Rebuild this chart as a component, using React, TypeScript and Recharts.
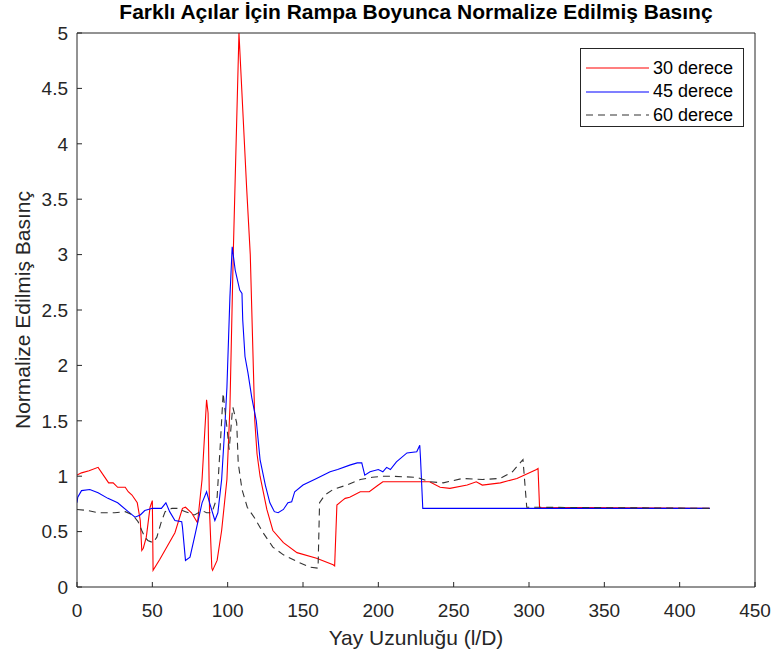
import { Label, Line, LineChart, XAxis, YAxis } from "recharts";

const xTicks = [0, 50, 100, 150, 200, 250, 300, 350, 400, 450];
const yTicks = [0, 0.5, 1, 1.5, 2, 2.5, 3, 3.5, 4, 4.5, 5];

// 30 derece
const x30 = [
  0, 3, 8, 14, 21, 24, 27, 32, 34, 36.5, 40, 42, 43, 44, 46, 48.5, 50, 50.5, 55, 60, 65, 70, 72, 76, 80, 83, 86,
  87, 88, 89.5, 90, 93, 96, 99.5, 101.5, 103.7, 107.5, 112.6, 115, 118, 119.5, 121.5, 126, 130, 137, 146, 159,
  170, 171, 172.5, 176, 178, 181, 188, 194, 200, 203, 225.5, 234, 241, 247.5, 259, 265, 269, 281, 292, 305, 306,
  307, 420,
];
const y30 = [
  1.01, 1.03, 1.05, 1.08, 0.94, 0.94, 0.9, 0.9, 0.86, 0.83, 0.76, 0.6, 0.33, 0.35, 0.45, 0.72, 0.78, 0.15, 0.25,
  0.37, 0.49, 0.71, 0.72, 0.67, 0.58, 0.97, 1.69, 1.57, 0.67, 0.17, 0.15, 0.24, 0.51, 0.97, 1.62, 3.0, 5.0, 3.6,
  3.0, 1.5, 1.2, 1.0, 0.7, 0.51, 0.4, 0.31, 0.26, 0.2, 0.19, 0.74, 0.78, 0.8, 0.81, 0.86, 0.86, 0.92, 0.95, 0.95,
  0.95, 0.9, 0.89, 0.92, 0.95, 0.92, 0.94, 0.98, 1.06, 1.07, 0.72, 0.71,
];

// 45 derece
const x45 = [
  0, 0.5, 3, 8.5, 14, 20.5, 27, 34, 38.5, 42, 45, 50, 56, 59, 61.5, 65, 69.5, 70, 72, 75, 78, 83, 86, 88, 91.5,
  93.5, 96, 98, 99.5, 101.5, 103, 105, 108, 109.5, 110, 111.5, 113.5, 116, 119, 121.5, 125, 128, 131, 133.5, 137,
  140, 142.5, 144.5, 150, 159, 168, 173, 181, 186, 189, 191, 194.5, 200, 203, 205.5, 208, 212, 219, 225.5, 227.5,
  228, 229.5, 420,
];
const y45 = [
  0.76, 0.81, 0.87, 0.88, 0.85, 0.8, 0.76, 0.68, 0.63, 0.65, 0.69, 0.71, 0.71, 0.76, 0.68, 0.6, 0.59, 0.54, 0.24,
  0.27, 0.45, 0.76, 0.86, 0.76, 0.6, 0.67, 0.97, 1.42, 1.8, 2.62, 3.07, 2.86, 2.68, 2.65, 2.41, 2.08, 1.93, 1.71,
  1.5, 1.15, 0.92, 0.76, 0.68, 0.67, 0.7, 0.76, 0.77, 0.86, 0.92, 0.98, 1.04, 1.06, 1.1, 1.12, 1.12, 1.01, 1.04,
  1.06, 1.04, 1.08, 1.06, 1.13, 1.21, 1.22, 1.28, 1.16, 0.71, 0.71,
];

// 60 derece
const x60 = [
  0, 7, 14, 25, 32, 37, 40.5, 43, 45, 47, 50.5, 53, 56, 58.5, 63, 67, 70, 72, 78, 83, 86, 89.5, 93, 95, 97, 99.5,
  101, 103, 103.5, 106, 107, 109.5, 113, 118, 123.5, 130, 137, 146, 154.5, 160, 161, 164.5, 170, 179, 188, 196,
  203, 208, 225.5, 234, 243, 256, 269, 281, 289, 296, 298.5, 420,
];
const y60 = [
  0.7, 0.69, 0.67, 0.67, 0.68, 0.65, 0.59, 0.51, 0.45, 0.42, 0.4, 0.45, 0.59, 0.68, 0.71, 0.71, 0.69, 0.68, 0.65,
  0.69, 0.67, 0.67, 0.81, 1.26, 1.75, 1.44, 1.24, 1.57, 1.62, 1.48, 1.12, 0.88, 0.72, 0.62, 0.49, 0.36, 0.29,
  0.23, 0.18, 0.17, 0.76, 0.83, 0.88, 0.92, 0.97, 0.99, 1.0, 1.0, 0.99, 0.95, 0.94, 0.98, 0.97, 0.98, 1.04, 1.15,
  0.72, 0.71,
];

const toPoints = (xs: number[], ys: number[]) => xs.map((x, i) => ({ x, y: ys[i] }));

const series = [
  { name: "30 derece", data: toPoints(x30, y30), color: "#ff0000", dash: undefined },
  { name: "45 derece", data: toPoints(x45, y45), color: "#0000ff", dash: undefined },
  { name: "60 derece", data: toPoints(x60, y60), color: "#333333", dash: "7 5" },
];

const ink = "#262626";
const font = "'Liberation Sans', Arial, sans-serif";
const tickStyle = { fontSize: 19, fill: ink, fontFamily: font };

export default function App() {
  return (
    <div
      style={{
        position: "absolute",
        left: 0,
        top: 0,
        width: 780,
        height: 653,
        background: "#fff",
        fontFamily: font,
      }}
    >
      <div
        style={{
          position: "absolute",
          left: 0,
          top: 0,
          width: 832,
          textAlign: "center",
          fontSize: 21,
          fontWeight: "bold",
          color: "#000",
          lineHeight: "24px",
          whiteSpace: "nowrap",
        }}
      >
        Farklı Açılar İçin Rampa Boyunca Normalize Edilmiş Basınç
      </div>
      <LineChart width={780} height={653} margin={{ top: 32, right: 24, bottom: 0, left: 0 }}>
        <XAxis
          xAxisId="b"
          type="number"
          dataKey="x"
          domain={[0, 450]}
          ticks={xTicks}
          allowDataOverflow
          height={66}
          tickSize={-5}
          tickMargin={22}
          stroke={ink}
          tick={tickStyle}
          interval={0}
        >
          <Label
            value="Yay Uzunluğu (l/D)"
            position="insideBottom"
            offset={8}
            style={{ fontSize: 21, fill: ink, fontFamily: font }}
          />
        </XAxis>
        <XAxis
          xAxisId="t"
          orientation="top"
          type="number"
          dataKey="x"
          domain={[0, 450]}
          ticks={xTicks}
          height={1}
          tickSize={-5}
          stroke={ink}
          interval={0}
          tickFormatter={() => ""}
        />
        <YAxis
          yAxisId="l"
          type="number"
          domain={[0, 5]}
          ticks={yTicks}
          width={77}
          tickSize={-5}
          tickMargin={14}
          stroke={ink}
          tick={tickStyle}
          interval={0}
        >
          <Label
            value="Normalize Edilmiş Basınç"
            angle={-90}
            position="center"
            dx={-16}
            style={{ fontSize: 21, fill: ink, fontFamily: font, textAnchor: "middle" }}
          />
        </YAxis>
        <YAxis
          yAxisId="r"
          orientation="right"
          type="number"
          domain={[0, 5]}
          ticks={yTicks}
          width={1}
          tickSize={-5}
          stroke={ink}
          interval={0}
          tickFormatter={() => ""}
        />
        {series.map((s) => (
          <Line
            key={s.name}
            xAxisId="b"
            yAxisId="l"
            data={s.data}
            dataKey="y"
            name={s.name}
            type="linear"
            stroke={s.color}
            strokeWidth={1.1}
            strokeDasharray={s.dash}
            dot={false}
            isAnimationActive={false}
          />
        ))}
      </LineChart>
      <div
        style={{
          position: "absolute",
          left: 580,
          top: 48,
          width: 164,
          height: 79,
          border: "1px solid #262626",
          background: "#fff",
          boxSizing: "border-box",
        }}
      >
        {series.map((s, i) => (
          <div
            key={s.name}
            style={{
              position: "absolute",
              left: 0,
              top: 8 + i * 23.5,
              height: 22,
              display: "flex",
              alignItems: "center",
            }}
          >
            <svg width={70} height={22}>
              <line x1={5} y1={11} x2={68} y2={11} stroke={s.color} strokeWidth={1.1} strokeDasharray={s.dash} />
            </svg>
            <span style={{ fontSize: 18, color: "#000", marginLeft: 2, whiteSpace: "nowrap" }}>{s.name}</span>
          </div>
        ))}
      </div>
    </div>
  );
}
